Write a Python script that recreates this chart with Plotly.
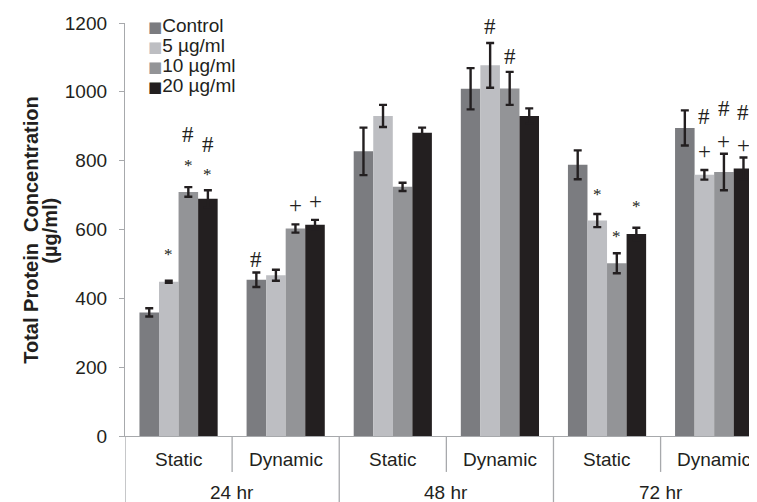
import plotly.graph_objects as go

times = ["24 hr", "24 hr", "48 hr", "48 hr", "72 hr", "72 hr"]
modes = ["Static", "Dynamic", "Static", "Dynamic", "Static", "Dynamic"]
time_labels = ["24 hr", "48 hr", "72 hr"]

series_names = ["Control", "5 µg/ml", "10 µg/ml", "20 µg/ml"]
control = [359, 454, 827, 1009, 788, 895]
c5 = [448, 467, 930, 1077, 626, 759]
c10 = [709, 603, 724, 1010, 502, 767]
c20 = [689, 614, 881, 930, 587, 777]

control_err = [12, 21, 69, 60, 42, 51]
c5_err = [3, 16, 32, 65, 19, 14]
c10_err = [14, 12, 12, 48, 29, 53]
c20_err = [25, 14, 15, 22, 18, 32]

y_title_lines = ["Total Protein  Concentration", "(µg/ml)"]

colors = ["#7b7c80", "#bdbec2", "#939497", "#231f20"]
INK = "#231f20"
AXC = "#a7a9ac"

# significance markers: (group index, series index, symbol, y value)
marks = [
    (0, 1, "*", 535), (0, 2, "#", 876), (0, 2, "*", 794), (0, 3, "#", 847), (0, 3, "*", 768),
    (1, 0, "#", 512), (1, 2, "+", 666), (1, 3, "+", 678),
    (3, 1, "#", 1190), (3, 2, "#", 1103),
    (4, 1, "*", 710), (4, 2, "*", 588), (4, 3, "*", 675),
    (5, 1, "#", 928), (5, 1, "+", 823), (5, 2, "#", 951), (5, 2, "+", 852),
    (5, 3, "#", 940), (5, 3, "+", 841),
]

BARGAP = 0.27
x = [times, modes]
fig = go.Figure()
for name, vals, errs, col in zip(series_names, [control, c5, c10, c20],
                                 [control_err, c5_err, c10_err, c20_err], colors):
    fig.add_trace(go.Bar(
        name=name, x=x, y=vals, marker_color=col, marker_line_width=0,
        error_y=dict(type="data", array=errs, color=INK, thickness=2.4, width=4),
        showlegend=False,
    ))

bw = (1 - BARGAP) / 4
annots = []
sym_style = {"#": (23, 0), "+": (23, 1.5), "*": (17, -2.5)}
for g, s, sym, yv in marks:
    xpos = g - (1 - BARGAP) / 2 + bw * (s + 0.5)
    size, ysh = sym_style[sym]
    annots.append(dict(x=xpos, y=yv, xref="x", yref="y", text=sym, showarrow=False,
                       font=dict(size=size, color=INK, family="Liberation Serif"),
                       yanchor="middle", xanchor="center", yshift=ysh))

# legend (one row per series)
for i, (name, col) in enumerate(zip(series_names, colors)):
    annots.append(dict(x=0.033, y=0.995 - i * 0.0485, xref="paper", yref="paper",
                       text=f"<span style='color:{col};font-family:DejaVu Sans;font-size:15px'>■</span>{name}",
                       showarrow=False, xanchor="left", yanchor="middle",
                       font=dict(size=19, color=INK)))

# category labels
for i, m in enumerate(modes):
    annots.append(dict(x=i, y=-0.058, xref="x", yref="paper", text=m, showarrow=False,
                       xanchor="center", yanchor="middle", font=dict(size=19, color=INK)))
for i, t in enumerate(time_labels):
    annots.append(dict(x=2 * i + 0.5, y=-0.136, xref="x", yref="paper", text=t,
                       showarrow=False, xanchor="center", yanchor="middle",
                       font=dict(size=19, color=INK)))

# y-axis title, two lines
for xp, line in zip([-0.1487, -0.1187], y_title_lines):
    annots.append(dict(x=xp, y=0.497, xref="paper", yref="paper", text=f"<b>{line}</b>",
                       textangle=-90, showarrow=False, xanchor="center", yanchor="middle",
                       font=dict(size=20, color=INK)))

shapes = []
for b in [0.5, 2.5, 4.5]:
    shapes.append(dict(type="line", xref="x", yref="paper", x0=b, x1=b, y0=0, y1=-0.087,
                       line=dict(color=AXC, width=1.3)))
for b in [-0.5, 1.5, 3.5, 5.5]:
    shapes.append(dict(type="line", xref="x", yref="paper", x0=b, x1=b, y0=0, y1=-0.17,
                       line=dict(color=AXC, width=1.3)))

# the page adds an 8px body margin, so the figure is sized to fill the rest of the window
fig.update_layout(
    width=749, height=494,
    margin=dict(l=117, r=0, t=15, b=66),
    paper_bgcolor="white", plot_bgcolor="white",
    barmode="group", bargap=BARGAP, bargroupgap=0,
    font=dict(family="Liberation Sans", color=INK, size=19),
    showlegend=False,
    annotations=annots,
    shapes=shapes,
    yaxis=dict(range=[0, 1200], tickvals=[0, 200, 400, 600, 800, 1000, 1200],
               showgrid=False, zeroline=False, showline=True, linecolor=AXC,
               linewidth=1.3, ticks="outside", ticklen=5, tickcolor=AXC,
               tickfont=dict(size=19), automargin=False, ticklabelstandoff=8),
    xaxis=dict(type="multicategory", range=[-0.5, 5.4], showgrid=False, showline=True,
               linecolor=AXC, linewidth=1.3, ticks="", showticklabels=False,
               showdividers=False, automargin=False),
)

fig.write_html("out.html")
